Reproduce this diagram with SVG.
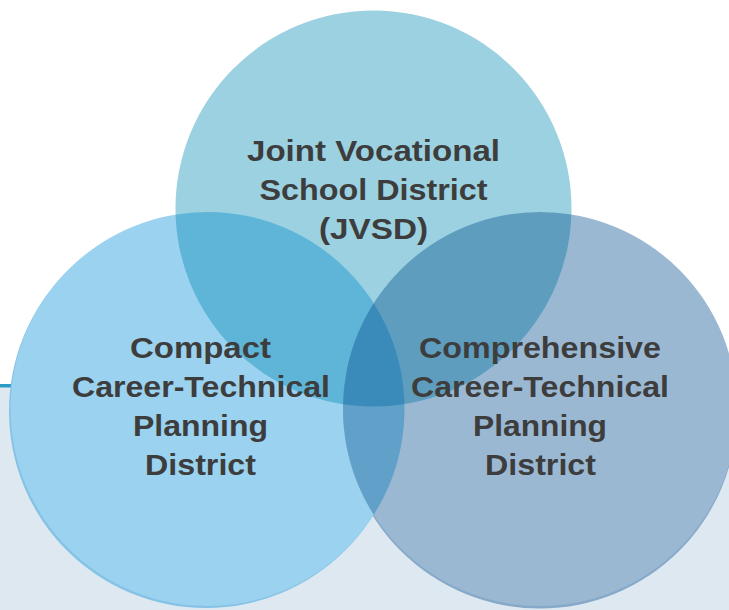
<svg xmlns="http://www.w3.org/2000/svg" width="729" height="610" viewBox="0 0 729 610">
<style>
.lbl{font-family:"Liberation Sans",Arial,sans-serif;font-weight:700;font-size:29px;fill:#3d3d3d;text-anchor:middle}
</style>
<defs>
<clipPath id="cTop"><circle cx="373.5" cy="208.5" r="198"/></clipPath>
<clipPath id="cLeft"><circle cx="207.5" cy="409" r="197"/></clipPath>
<clipPath id="cRight"><circle cx="540" cy="409" r="197"/></clipPath>
</defs>
<rect x="0" y="0" width="729" height="610" fill="#ffffff"/>
<rect x="0" y="387" width="729" height="223" fill="#dde8f0"/>
<rect x="0" y="384" width="20" height="3.5" fill="#2a9cc6"/>
<g id="shadows">
<circle cx="206" cy="411" r="197" fill="#84c3e6"/>
<circle cx="540" cy="411.5" r="197" fill="#87a9c9"/>
</g>
<g id="node-left">
<circle cx="207.5" cy="409" r="197" fill="#9ad2ef"/>
</g>
<g id="node-right">
<circle cx="540" cy="409" r="197" fill="#9bb8d3"/>
</g>
<g id="node-top">
<circle cx="373.5" cy="208.5" r="198" fill="#9bd1e0"/>
</g>
<g id="overlaps">
<g clip-path="url(#cTop)">
<circle cx="207.5" cy="409" r="197" fill="#5eb5d8"/>
<circle cx="540" cy="409" r="197" fill="#5f9dbf"/>
</g>
<g clip-path="url(#cLeft)">
<circle cx="540" cy="409" r="197" fill="#60a0c9"/>
<g clip-path="url(#cTop)">
<circle cx="540" cy="409" r="197" fill="#3b8bba"/>
</g>
</g>
</g>
<g id="labels">
<text class="lbl" x="373.5" y="161" textLength="253" lengthAdjust="spacingAndGlyphs">Joint Vocational</text>
<text class="lbl" x="373.5" y="200" textLength="228" lengthAdjust="spacingAndGlyphs">School District</text>
<text class="lbl" x="373.5" y="239" textLength="109" lengthAdjust="spacingAndGlyphs">(JVSD)</text>
<text class="lbl" x="200.5" y="358" textLength="141" lengthAdjust="spacingAndGlyphs">Compact</text>
<text class="lbl" x="201" y="397" textLength="258" lengthAdjust="spacingAndGlyphs">Career-Technical</text>
<text class="lbl" x="200.5" y="436" textLength="135" lengthAdjust="spacingAndGlyphs">Planning</text>
<text class="lbl" x="200.5" y="475" textLength="111" lengthAdjust="spacingAndGlyphs">District</text>
<text class="lbl" x="540" y="358" textLength="242" lengthAdjust="spacingAndGlyphs">Comprehensive</text>
<text class="lbl" x="540" y="397" textLength="258" lengthAdjust="spacingAndGlyphs">Career-Technical</text>
<text class="lbl" x="540" y="436" textLength="134" lengthAdjust="spacingAndGlyphs">Planning</text>
<text class="lbl" x="540.5" y="475" textLength="111" lengthAdjust="spacingAndGlyphs">District</text>
</g>
</svg>
